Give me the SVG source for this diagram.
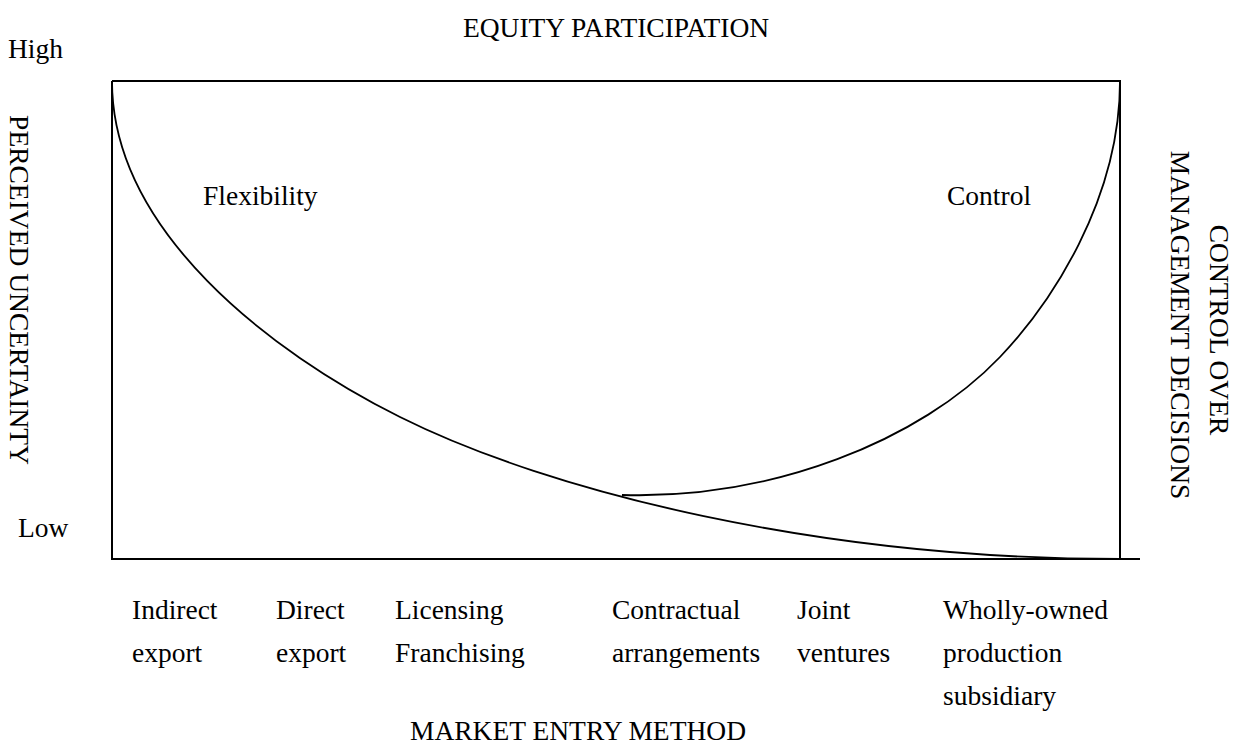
<svg xmlns="http://www.w3.org/2000/svg" width="1235" height="744" viewBox="0 0 1235 744">
<style>
text{font-family:"Liberation Serif","Times New Roman",serif;font-size:27.5px;fill:#000}
.ln{fill:none;stroke:#000;stroke-width:2}
.cv{fill:none;stroke:#000;stroke-width:1.8}
</style>
<rect width="1235" height="744" fill="#fff"/>
<g id="frame">
<path class="ln" d="M112,81 H1120 V559"/>
<path class="ln" d="M112,81 V559 H1140"/>
</g>
<g id="connectors">
<path id="flexibility-curve" class="cv" d="M112,81 C112,231 270,352 400,417 C550,492 820,559 1120,559"/>
<path id="control-curve" class="cv" d="M622,495 C772,499.5 920,441 1000,357 C1050,304.5 1120,201 1120,81"/>
</g>
<g id="axis-labels">
<text x="616" y="37" text-anchor="middle" font-size="27">EQUITY PARTICIPATION</text>
<text x="8" y="58">High</text>
<text x="18" y="537">Low</text>
<text x="578" y="740" text-anchor="middle">MARKET ENTRY METHOD</text>
<text transform="translate(10,290) rotate(90)" text-anchor="middle">PERCEIVED UNCERTAINTY</text>
<text transform="translate(1210,330) rotate(90)" text-anchor="middle">CONTROL OVER</text>
<text transform="translate(1171,325) rotate(90)" text-anchor="middle">MANAGEMENT DECISIONS</text>
</g>
<g id="region-labels">
<text x="203" y="205">Flexibility</text>
<text x="947" y="205">Control</text>
</g>
<g id="entry-methods">
<g id="m-indirect"><text x="132" y="619">Indirect</text><text x="132" y="662">export</text></g>
<g id="m-direct"><text x="276" y="619">Direct</text><text x="276" y="662">export</text></g>
<g id="m-licensing"><text x="395" y="619">Licensing</text><text x="395" y="662">Franchising</text></g>
<g id="m-contractual"><text x="612" y="619">Contractual</text><text x="612" y="662">arrangements</text></g>
<g id="m-joint"><text x="797" y="619">Joint</text><text x="797" y="662">ventures</text></g>
<g id="m-wholly"><text x="943" y="619">Wholly-owned</text><text x="943" y="662">production</text><text x="943" y="705">subsidiary</text></g>
</g>
</svg>
